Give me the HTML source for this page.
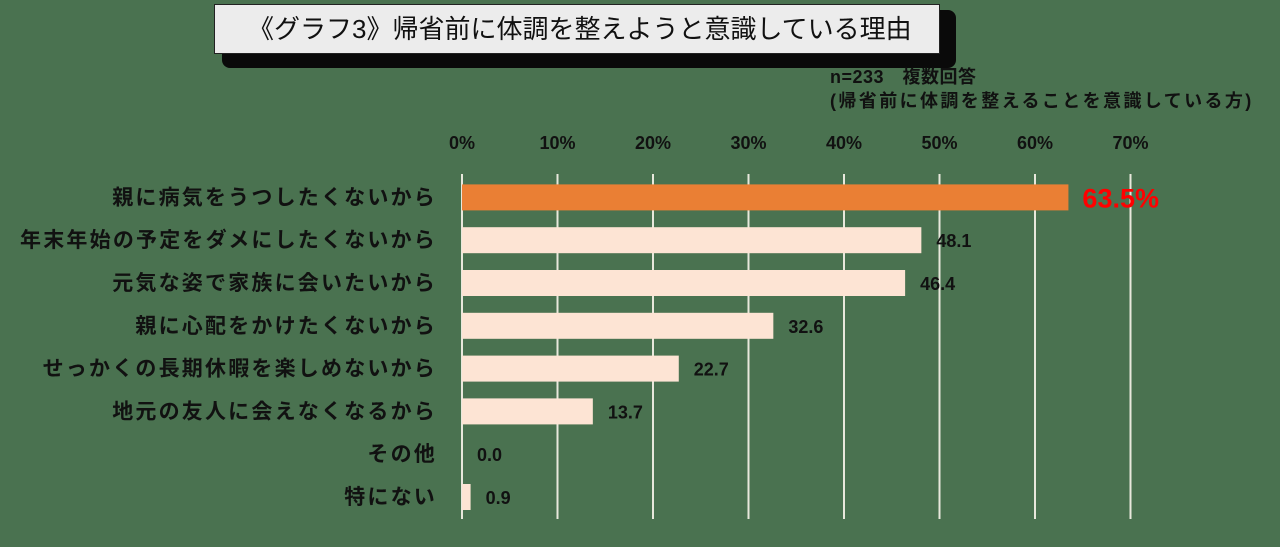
<!DOCTYPE html>
<html><head><meta charset="utf-8">
<style>
html,body{margin:0;padding:0;}
body{width:1280px;height:547px;background:#4a7250;position:relative;overflow:hidden;font-family:"Liberation Sans","Noto Sans CJK JP",sans-serif;}
#title-shadow{position:absolute;left:222px;top:10px;width:734px;height:58px;background:#0a0a0a;border-radius:8px;}
#title{position:absolute;left:214px;top:4px;width:726px;height:50px;background:#ececec;border:1px solid #222;box-sizing:border-box;font-size:26px;line-height:48px;padding-left:33px;color:#111;white-space:nowrap;}
.note{position:absolute;left:830px;font-size:18px;color:#111;font-weight:bold;white-space:nowrap;letter-spacing:0.5px;}
svg{position:absolute;left:0;top:0;}
</style></head><body>
<div id="title-shadow"></div>
<div id="title">《グラフ3》帰省前に体調を整えようと意識している理由</div>
<div class="note" style="top:63px">n=233　複数回答</div>
<div class="note" style="top:87px;letter-spacing:2.4px">(帰省前に体調を整えることを意識している方)</div>
<svg id="chart" width="1280" height="547"></svg>
<script>
const categories=["親に病気をうつしたくないから","年末年始の予定をダメにしたくないから","元気な姿で家族に会いたいから","親に心配をかけたくないから","せっかくの長期休暇を楽しめないから","地元の友人に会えなくなるから","その他","特にない"];
const values=[63.5,48.1,46.4,32.6,22.7,13.7,0.0,0.9];
const valueLabels=["63.5%","48.1","46.4","32.6","22.7","13.7","0.0","0.9"];
const ticks=[0,10,20,30,40,50,60,70];
const NS="http://www.w3.org/2000/svg";
const svg=document.getElementById('chart');
const x0=462,pxPer=9.55,rowTop=176,rowH=42.8,barH=26;
const xs=v=>x0+v*pxPer;
const yc=i=>rowTop+rowH*(i+0.5);
function mk(t,a){const e=document.createElementNS(NS,t);for(const k in a)e.setAttribute(k,a[k]);svg.appendChild(e);return e;}
ticks.forEach((t,i)=>{
  const g=mk('line',{x1:xs(t),x2:xs(t),y1:174,y2:519,stroke:'#e8e8dc','stroke-width':2});
  
  
  const tx=mk('text',{x:xs(t),y:149,'text-anchor':'middle','font-size':18,'font-weight':'bold',fill:'#111'});
  tx.textContent=t+'%';
  
  
});
categories.forEach((c,i)=>{
  const y=yc(i);
  const lb=mk('text',{x:437,y:y+7,'text-anchor':'end','font-size':21,'font-weight':'bold',fill:'#111','letter-spacing':'2.2'});
  lb.textContent=c;
  
  
  const w=values[i]*pxPer;
  if(w>0){
    const r=mk('rect',{x:x0,y:y-barH/2,width:w,height:barH,fill:i===0?'#ea7f34':'#fde4d4'});
    
    
  }
  const first=i===0;
  const vt=mk('text',{x:xs(values[i])+(first?14:15),y:y+(first?10:7),'font-size':first?27:18,'font-weight':'bold',fill:first?'#ff0000':'#111'});
  vt.textContent=valueLabels[i];
  
  
});
</script>
</body></html>
